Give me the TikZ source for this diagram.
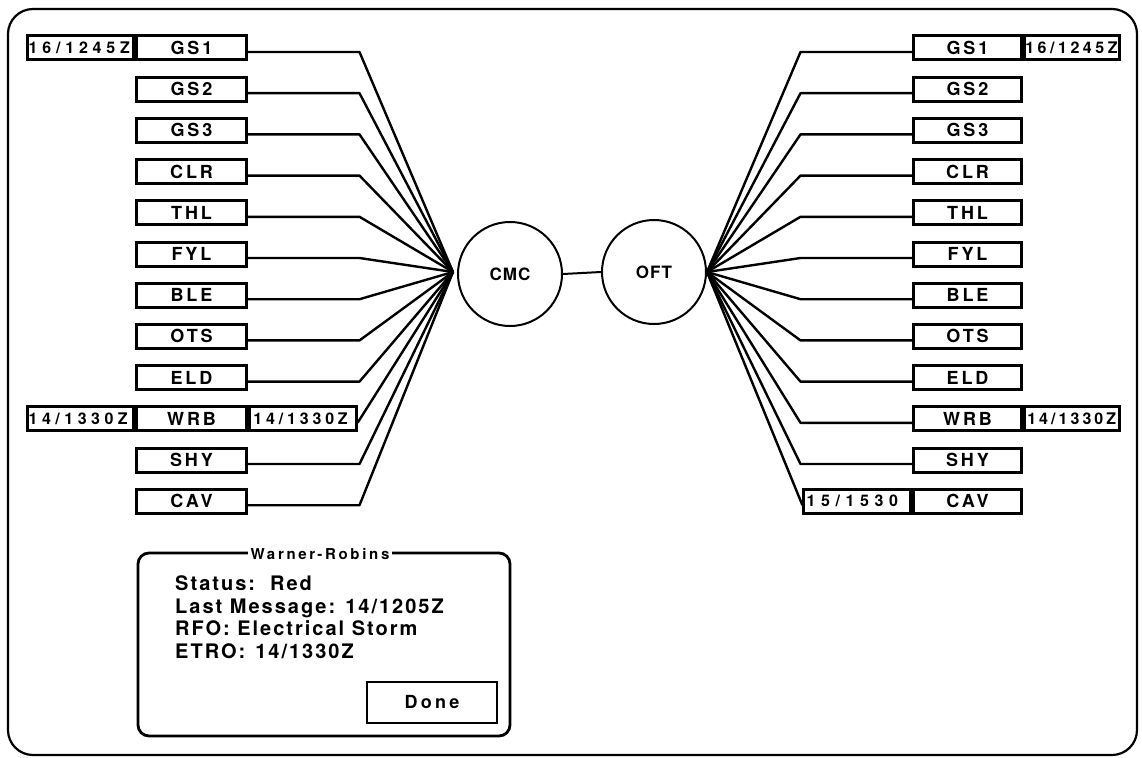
\documentclass[tikz,border=0pt]{standalone}
\usepackage{fontspec}
\setmainfont{TeX Gyre Heros}
\newfontfamily\boxfont[LetterSpace=16]{TeX Gyre Heros}
\newfontfamily\tsfont{TeX Gyre Heros}
\newfontfamily\txtfont[LetterSpace=10]{TeX Gyre Heros}
\newfontfamily\ttlfont[LetterSpace=18]{TeX Gyre Heros}
\newfontfamily\circfont[LetterSpace=6]{TeX Gyre Heros}
\usetikzlibrary{calc}
\begin{document}
\begin{tikzpicture}[x=1pt,y=-1pt,
  lbl/.style={draw,line width=3pt,inner sep=0pt,minimum height=24pt,
    font=\boxfont\bfseries\fontsize{18}{18}\selectfont},
  lmain/.style={lbl,minimum width=110pt},
  rmain/.style={lbl,minimum width=108pt},
  ts/.style={draw,line width=3pt,inner xsep=0.8pt,inner ysep=0pt,minimum height=24pt,
    align=left,font=\tsfont\bfseries\fontsize{16}{16}\selectfont},
  conn/.style={line width=2.4pt,line join=round},
  hub/.style={draw,circle,line width=2pt,minimum size=104pt,inner sep=0pt,
    font=\circfont\bfseries\fontsize{17}{17}\selectfont},
  frame/.style={line width=2.2pt,rounded corners=25pt},
  info/.style={anchor=base west,inner sep=0pt,font=\txtfont\bfseries\fontsize{20}{20}\selectfont}
]
\useasboundingbox (0,0) rectangle (1142,757);
\draw[frame] (8,9) rectangle (1137,755);

% label columns
\foreach \t [count=\i] in {GS1,GS2,GS3,CLR,THL,FYL,BLE,OTS,ELD,WRB,SHY,CAV}{
  \node[lmain] (L\i) at (191.5,{48+41.2*(\i-1)}) {\t};
  \node[rmain] (R\i) at (967.5,{48+41.2*(\i-1)}) {\t};
}

% timestamp boxes
\node[ts,text width=104pt,anchor=east] (LT1) at (L1.west) {\addfontfeature{LetterSpace=30}16/1245Z};
\node[ts,text width=104pt,anchor=east] (LT10) at (L10.west) {\addfontfeature{LetterSpace=28}14/1330Z};
\node[ts,text width=105pt,anchor=west] (LW) at (L10.east) {\hspace{3pt}\addfontfeature{LetterSpace=24}14/1330Z};
\node[ts,text width=93pt,anchor=west] (RT1) at (R1.east) {\addfontfeature{LetterSpace=22}16/1245Z};
\node[ts,text width=93pt,anchor=west] (RT10) at (R10.east) {\hspace{2pt}\addfontfeature{LetterSpace=19}14/1330Z};
\node[ts,text width=105pt,anchor=east] (RT12) at (R12.west) {\hspace{2pt}\addfontfeature{LetterSpace=35}15/1530};

% hubs
\node[hub] (CMC) at (510,274) {CMC};
\node[hub] (OFT) at (654,272) {OFT};
\draw[line width=2pt] (CMC.east) -- (OFT.west);
\coordinate (LC) at (453,272);
\coordinate (RC) at (707,272);

% connectors
\foreach \i in {1,2,3,4,5,6,7,8,9,11,12}{
  \draw[conn] ($(L\i.east)+(0,4)$) -- ($(L\i.east)+(111.5,4)$) -- (LC);
}
\draw[conn] ($(LW.east)+(0,4)$) -- (LC);
\foreach \i in {1,2,...,11}{
  \draw[conn] ($(R\i.west)+(0,4)$) -- ($(R\i.west)+(-111.5,4)$) -- (RC);
}
\draw[conn] ($(RT12.west)+(0,4)$) -- (RC);

% dialog
\draw[line width=2.8pt,rounded corners=11pt] (138,553) rectangle (510,736);
\node[fill=white,inner xsep=3pt,inner ysep=1pt,font=\ttlfont\bfseries\fontsize{15}{15}\selectfont] (title) at (320,554) {Warner-Robins};
\node[info] (st) at (175,590) {Status:\hspace{15pt}Red};
\node[info] (lm) at (175,613) {Last Message: 14/1205Z};
\node[info] (rfo) at (175,635.5) {RFO: Electrical Storm};
\node[info] (etro) at (175,658) {ETRO:\hspace{10pt}14/1330Z};
\node[draw,line width=2.2pt,minimum width=130pt,minimum height=41pt,inner sep=0pt,
  font=\ttlfont\bfseries\fontsize{18}{18}\selectfont] (done) at (432,702.5) {Done};
\end{tikzpicture}
\end{document}
